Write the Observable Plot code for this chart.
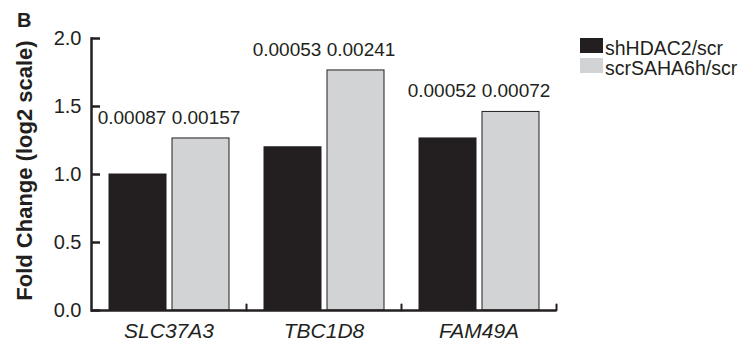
<!DOCTYPE html>
<html><head><meta charset="utf-8">
<script src="https://cdn.jsdelivr.net/npm/d3@7"></script>
<script src="https://cdn.jsdelivr.net/npm/@observablehq/plot@0.6"></script>
<style>
body{margin:0;background:#fff;font-family:"Liberation Sans",Arial,sans-serif;color:#231f20;}
#wrap{position:relative;width:739px;height:342px;overflow:hidden;}
#wrap svg{position:absolute;left:0;top:0;}
#letter{position:absolute;left:17px;top:10px;font-size:20px;line-height:1;font-weight:bold;z-index:2;}
#legend{position:absolute;left:580px;top:38px;font-size:19.5px;z-index:2;}
.row{display:flex;align-items:flex-start;height:20px;line-height:20px;white-space:nowrap;}
.sw{width:23px;height:15px;margin-right:2px;}
</style></head><body>
<div id="wrap"></div>
<script>
const genes = ["SLC37A3", "TBC1D8", "FAM49A"];
const seriesNames = ["shHDAC2/scr", "scrSAHA6h/scr"];
const shValues = [1.0, 1.2, 1.265];
const scrValues = [1.265, 1.765, 1.46];
const shPvals = ["0.00087", "0.00053", "0.00052"];
const scrPvals = ["0.00157", "0.00241", "0.00072"];
const yTicks = [0, 0.5, 1.0, 1.5, 2.0];
const colors = ["#231f20", "#d1d3d4"];
const panelLetter = "B";
const yTitle = "Fold Change (log2 scale)";

const bars = [];
genes.forEach((g, i) => {
  bars.push({gene: g, series: seriesNames[0], value: shValues[i]});
  bars.push({gene: g, series: seriesNames[1], value: scrValues[i]});
});
const labels = genes.map((g, i) => ({
  gene: g,
  top: Math.max(shValues[i], scrValues[i]),
  text: shPvals[i] + " " + scrPvals[i]
}));

const ink = "#231f20";
const upTick = {draw(context, l) { context.moveTo(0, 0); context.lineTo(0, -l); }};
const chart = Plot.plot({
  width: 739, height: 342,
  marginLeft: 90, marginRight: 182, marginTop: 38, marginBottom: 32,
  style: {fontFamily: '"Liberation Sans", Arial, sans-serif', color: ink, background: "transparent"},
  fx: {domain: genes, padding: 0, label: null, axis: null},
  x: {domain: seriesNames, paddingInner: 0.1, paddingOuter: 0.28, axis: null},
  y: {domain: [0, 2], label: null, axis: null},
  color: {domain: seriesNames, range: colors},
  marks: [
    Plot.barY(bars, {fx: "gene", x: "series", y: "value", fill: "series", stroke: ink, strokeWidth: 1}),
    Plot.text(labels, {fx: "gene", y: "top", text: "text", dy: -21, fontSize: 19, fill: ink}),
    Plot.ruleY([0], {stroke: ink, strokeWidth: 2.5}),
    Plot.vector([0], {frameAnchor: "bottom-right", length: 6, rotate: 0, anchor: "start", shape: upTick, stroke: ink, strokeWidth: 2}),
    Plot.frame({anchor: "left", facetAnchor: "left", stroke: ink, strokeWidth: 2.5}),
    Plot.axisY({ticks: yTicks, tickFormat: d3.format(".1f"), tickSize: -9, tickPadding: 19, fontSize: 20, strokeWidth: 2.5, label: null, stroke: ink, fill: ink}),
    Plot.text([yTitle], {text: d => d, frameAnchor: "left", facetAnchor: "left", textAnchor: "middle", rotate: -90, dx: -67, dy: -4, fontSize: 22, fontWeight: "bold", fill: ink}),
    Plot.axisFx({anchor: "bottom", tickSize: 0, tickPadding: 13, fontSize: 21, fontStyle: "italic", label: null, fill: ink})
  ]
});
const wrap = document.getElementById("wrap");
wrap.appendChild(chart);

const letter = document.createElement("div");
letter.id = "letter";
letter.textContent = panelLetter;
wrap.appendChild(letter);

const legend = document.createElement("div");
legend.id = "legend";
seriesNames.forEach((s, i) => {
  const row = document.createElement("div");
  row.className = "row";
  const sw = document.createElement("span");
  sw.className = "sw";
  sw.style.background = colors[i];
  const t = document.createElement("span");
  t.textContent = s;
  row.appendChild(sw);
  row.appendChild(t);
  legend.appendChild(row);
});
wrap.appendChild(legend);
</script>
</body></html>
